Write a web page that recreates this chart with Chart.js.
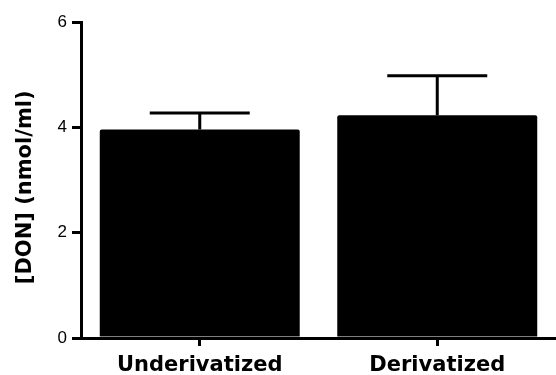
<!DOCTYPE html>
<html lang="en">
<head>
<meta charset="utf-8">
<title>DON chart</title>
<script src="https://cdn.jsdelivr.net/npm/chart.js@4/dist/chart.umd.min.js"></script>
<style>
  html, body { margin: 0; padding: 0; background: #fff; }
  #wrap { width: 556px; height: 375px; }
</style>
</head>
<body>
<div id="wrap"><canvas id="chart" width="556" height="375"></canvas></div>
<script>
// values
const categories = ['Underivatized', 'Derivatized'];
const means = [3.96, 4.23];
const errTops = [4.27, 4.98];   // mean + error
const yTicks = [0, 2, 4, 6];

// upward-only error bars with a cap
const errorBars = {
  id: 'errorBars',
  afterDatasetsDraw(chart) {
    const ctx = chart.ctx;
    const y = chart.scales.y;
    const meta = chart.getDatasetMeta(0);
    ctx.save();
    ctx.strokeStyle = '#000';
    ctx.lineWidth = 3;
    meta.data.forEach((bar, i) => {
      const top = y.getPixelForValue(errTops[i]);
      const half = bar.width / 4;
      ctx.beginPath();
      ctx.moveTo(bar.x, bar.y);
      ctx.lineTo(bar.x, top);
      ctx.moveTo(bar.x - half, top);
      ctx.lineTo(bar.x + half, top);
      ctx.stroke();
    });
    ctx.restore();
  }
};

new Chart(document.getElementById('chart'), {
  type: 'bar',
  data: {
    labels: categories,
    datasets: [{
      data: means,
      backgroundColor: '#000',
      borderWidth: 0,
      borderRadius: 2,
      borderSkipped: 'bottom',
      categoryPercentage: 1,
      barPercentage: 0.842
    }]
  },
  options: {
    responsive: false,
    animation: false,
    layout: { padding: { top: 22, right: 0, left: 0, bottom: 0 } },
    plugins: { legend: { display: false }, tooltip: { enabled: false } },
    scales: {
      x: {
        offset: true,
        grid: { display: true, offset: false, drawOnChartArea: false, color: '#000', lineWidth: 3, tickLength: 8 },
        border: { display: true, color: '#000', width: 3 },
        ticks: { color: '#000', padding: 7, font: { family: 'DejaVu Sans', size: 21, weight: 'bold' } },
        afterFit(scale) { scale.height = 37; }
      },
      y: {
        min: 0,
        max: 6,
        afterBuildTicks(scale) { scale.ticks = yTicks.map(v => ({ value: v })); },
        grid: { display: true, drawOnChartArea: false, color: '#000', lineWidth: 3, tickLength: 9 },
        border: { display: true, color: '#000', width: 3 },
        ticks: { color: '#000', padding: 5, font: { family: 'Liberation Sans', size: 17 } },
        title: {
          display: true,
          text: '[DON] (nmol/ml)\u00a0\u00a0',
          color: '#000',
          padding: { top: 13, bottom: 0 },
          font: { family: 'DejaVu Sans', size: 21, weight: 'bold' }
        },
        afterFit(scale) { scale.width = 81; }
      }
    }
  },
  plugins: [errorBars]
});
</script>
</body>
</html>
